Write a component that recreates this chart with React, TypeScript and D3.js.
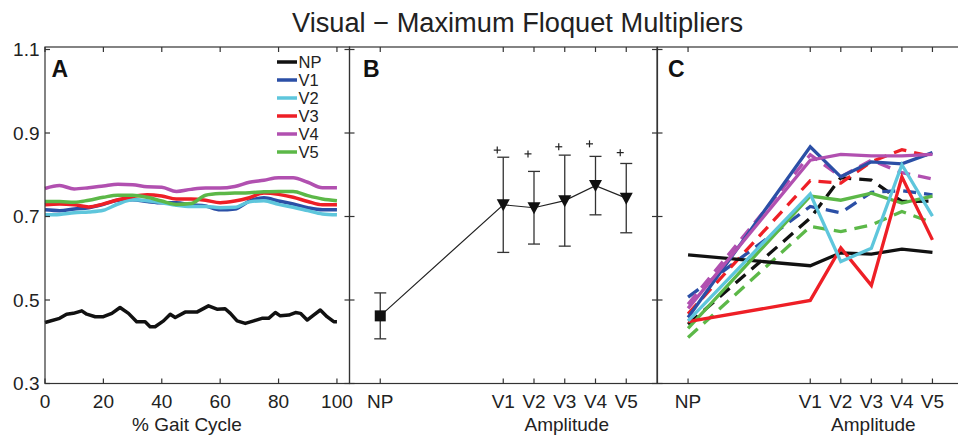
import React from 'react';
import * as d3 from 'd3';

// ---------- Panel A data ----------
const npCycleX = [0, 5, 7.4, 9.7, 12.6, 14.3, 17.2, 20, 22.9, 25.7, 28.6, 31.4, 34.3, 36, 37.7, 40.6, 42.9, 44.6, 48, 52, 56, 58.9, 61.7, 63.5, 65.8, 68.6, 71.5, 74.3, 76.6, 78.9, 80.6, 83.5, 85.8, 87.5, 89.8, 92, 94.3, 96.6, 98.9, 100];
const npCycle = [0.446, 0.456, 0.466, 0.468, 0.474, 0.466, 0.46, 0.46, 0.468, 0.482, 0.468, 0.448, 0.448, 0.436, 0.436, 0.45, 0.466, 0.458, 0.471, 0.471, 0.486, 0.478, 0.479, 0.468, 0.45, 0.444, 0.45, 0.456, 0.456, 0.47, 0.462, 0.464, 0.47, 0.468, 0.452, 0.464, 0.476, 0.46, 0.448, 0.448];

const gaitGrid = [0, 5, 10, 15, 20, 25, 30, 35, 40, 45, 50, 55, 60, 65, 70, 75, 80, 85, 90, 95, 100];
const v1Cycle = [0.716, 0.714, 0.718, 0.721, 0.729, 0.739, 0.740, 0.736, 0.733, 0.733, 0.728, 0.725, 0.716, 0.718, 0.737, 0.745, 0.737, 0.730, 0.721, 0.716, 0.716];
const v2Cycle = [0.704, 0.705, 0.709, 0.711, 0.715, 0.730, 0.740, 0.738, 0.733, 0.727, 0.724, 0.724, 0.721, 0.722, 0.735, 0.738, 0.729, 0.722, 0.714, 0.706, 0.704];
const v3Cycle = [0.728, 0.730, 0.728, 0.723, 0.730, 0.740, 0.748, 0.752, 0.749, 0.742, 0.742, 0.739, 0.733, 0.737, 0.745, 0.756, 0.753, 0.746, 0.736, 0.728, 0.728];
const v4Cycle = [0.767, 0.774, 0.766, 0.769, 0.773, 0.777, 0.776, 0.771, 0.770, 0.760, 0.765, 0.768, 0.768, 0.772, 0.782, 0.787, 0.793, 0.793, 0.782, 0.769, 0.769];
const v5Cycle = [0.736, 0.736, 0.734, 0.739, 0.746, 0.751, 0.751, 0.746, 0.737, 0.729, 0.731, 0.751, 0.755, 0.756, 0.757, 0.759, 0.760, 0.760, 0.750, 0.742, 0.738];

const legendLabels = ['NP', 'V1', 'V2', 'V3', 'V4', 'V5'];
const seriesColors = ['#111111', '#2b4fa6', '#5ec6dc', '#ee1f26', '#b150b0', '#5cb848'];

// ---------- Panel B data ----------
const categories = ['NP', 'V1', 'V2', 'V3', 'V4', 'V5'];
const categoryPos = [0, 4, 5, 6, 7, 8];
const meanFM = [0.462, 0.728, 0.721, 0.738, 0.774, 0.744];
const sdFM = [0.055, 0.114, 0.087, 0.109, 0.070, 0.083];
const sigMarks = [null, 0.859, 0.850, 0.867, 0.874, 0.853];

// ---------- Panel C data (individual subjects) ----------
const subjSolidBlack = [0.608, 0.582, 0.613, 0.610, 0.622, 0.614];
const subjSolidBlue = [0.458, 0.867, 0.795, 0.831, 0.826, 0.853];
const subjSolidCyan = [0.450, 0.754, 0.592, 0.624, 0.824, 0.701];
const subjSolidRed = [0.448, 0.499, 0.625, 0.535, 0.795, 0.644];
const subjSolidMagenta = [0.480, 0.835, 0.849, 0.845, 0.845, 0.849];
const subjSolidGreen = [0.432, 0.749, 0.739, 0.756, 0.732, 0.749];
const subjDashBlack = [0.442, 0.696, 0.793, 0.787, 0.736, 0.737];
const subjDashBlue = [0.507, 0.724, 0.709, 0.758, 0.762, 0.752];
const subjDashRed = [0.467, 0.786, 0.780, 0.831, 0.860, 0.843];
const subjDashMagenta = [0.490, 0.848, 0.795, 0.835, 0.805, 0.790];
const subjDashGreen = [0.410, 0.676, 0.664, 0.680, 0.712, 0.685];

const title = 'Visual \u2212 Maximum Floquet Multipliers';
const yTicks = [0.3, 0.5, 0.7, 0.9, 1.1];
const yTickLabels = ['0.3', '0.5', '0.7', '0.9', '1.1'];
const gaitTicks = [0, 20, 40, 60, 80, 100];

const FONT = '"Liberation Sans", Arial, Helvetica, sans-serif';

export default function App() {
  const W = 958, H = 441;
  const top = 47, bottom = 383.5;
  const y = d3.scaleLinear().domain([0.3, 1.106]).range([bottom, top]);
  const xA = d3.scaleLinear().domain([0, 104.3]).range([45, 349.5]);
  const xB = d3.scaleLinear().domain([-1, 9]).range([349.5, 657]);
  const xC = d3.scaleLinear().domain([-1, 9]).range([657.5, 963]);
  const tick = 5;
  const axisColor = '#333';

  const lineA = (xs: number[], ys: number[]) =>
    d3.line<number>().x((_, i) => xA(xs[i])).y((v) => y(v)).curve(d3.curveMonotoneX)(ys) || '';
  const lineA2 = (xs: number[], ys: number[]) =>
    d3.line<number>().x((_, i) => xA(xs[i])).y((v) => y(v))(ys) || '';
  const lineCat = (sx: d3.ScaleLinear<number, number>, ys: number[]) =>
    d3.line<number>().x((_, i) => sx(categoryPos[i])).y((v) => y(v))(ys) || '';

  const colorA = [npCycle, v1Cycle, v2Cycle, v3Cycle, v4Cycle, v5Cycle];

  const frame = (x0: number, x1: number, xt: number[], key: string) => (
    <g key={key} stroke={axisColor} strokeWidth={1.2} fill="none">
      <rect x={x0} y={top} width={x1 - x0} height={bottom - top} />
      {xt.map((t, i) => (
        <g key={i}>
          <line x1={t} x2={t} y1={bottom} y2={bottom - tick} />
          <line x1={t} x2={t} y1={top} y2={top + tick} />
        </g>
      ))}
      {yTicks.map((t, i) => (
        <g key={'y' + i}>
          <line x1={x0} x2={x0 + tick} y1={y(t)} y2={y(t)} />
          <line x1={x1} x2={x1 - tick} y1={y(t)} y2={y(t)} />
        </g>
      ))}
    </g>
  );

  const cSolid: [number[], string][] = [
    [subjSolidBlack, seriesColors[0]],
    [subjSolidBlue, seriesColors[1]],
    [subjSolidMagenta, seriesColors[4]],
    [subjSolidGreen, seriesColors[5]],
    [subjSolidRed, seriesColors[3]],
    [subjSolidCyan, seriesColors[2]],
  ];
  const cDash: [number[], string][] = [
    [subjDashBlack, seriesColors[0]],
    [subjDashBlue, seriesColors[1]],
    [subjDashRed, seriesColors[3]],
    [subjDashMagenta, seriesColors[4]],
    [subjDashGreen, seriesColors[5]],
  ];

  const tri = 'M-6.5,-5.5L6.5,-5.5L0,6.5Z';

  return (
    <svg width={W} height={H} style={{ position: 'absolute', left: 0, top: 0, background: '#fff' }} fontFamily={FONT}>
      <rect x={0} y={0} width={W} height={H} fill="#fff" />
      <text x={292} y={32} fontSize={27} fill="#222" textLength={451} lengthAdjust="spacingAndGlyphs">{title}</text>

      {/* Panel A */}
      <g>
        {colorA.map((s, i) => (
          <path key={i} d={i === 0 ? lineA2(npCycleX, s) : lineA(gaitGrid, s)} fill="none" stroke={seriesColors[i]} strokeWidth={3.5} strokeLinejoin="round" />
        ))}
        {frame(45, 349.5, gaitTicks.map((t) => xA(t)), 'fa')}
        {yTicks.map((t, i) => (
          <text key={i} x={39.5} y={y(t) + 6.5} fontSize={19} textAnchor="end" fill="#222">{yTickLabels[i]}</text>
        ))}
        {gaitTicks.map((t, i) => (
          <text key={i} x={xA(t)} y={408} fontSize={19} textAnchor="middle" fill="#222">{t}</text>
        ))}
        <text x={187} y={431} fontSize={19} textAnchor="middle" fill="#222">% Gait Cycle</text>
        <text x={51.5} y={76.5} fontSize={23} fontWeight="bold" fill="#111">A</text>
        {legendLabels.map((l, i) => (
          <g key={i}>
            <line x1={277} x2={297} y1={62 + i * 18} y2={62 + i * 18} stroke={seriesColors[i]} strokeWidth={3.5} />
            <text x={298.5} y={62 + i * 18 + 6} fontSize={16.5} fill="#222">{l}</text>
          </g>
        ))}
      </g>

      {/* Panel B */}
      <g>
        {frame(349.5, 657, categoryPos.map((c) => xB(c)), 'fb')}
        <path d={lineCat(xB, meanFM)} fill="none" stroke="#222" strokeWidth={1.2} />
        {meanFM.map((m, i) => {
          const cx = xB(categoryPos[i]);
          const y1 = y(m + sdFM[i]);
          const y2 = y(m - sdFM[i]);
          return (
            <g key={i} stroke="#333" strokeWidth={1.3}>
              <line x1={cx} x2={cx} y1={y1} y2={y2} />
              <line x1={cx - 6} x2={cx + 6} y1={y1} y2={y1} />
              <line x1={cx - 6} x2={cx + 6} y1={y2} y2={y2} />
            </g>
          );
        })}
        {meanFM.map((m, i) => {
          const cx = xB(categoryPos[i]);
          return i === 0 ? (
            <rect key={i} x={cx - 5.5} y={y(m) - 5.5} width={11} height={11} fill="#111" />
          ) : (
            <path key={i} d={tri} transform={`translate(${cx},${y(m)})`} fill="#111" />
          );
        })}
        {sigMarks.map((s, i) =>
          s === null ? null : (
            <g key={i} stroke="#222" strokeWidth={1.2} transform={`translate(${xB(categoryPos[i]) - 6},${y(s)})`}>
              <line x1={-3.5} x2={3.5} y1={0} y2={0} />
              <line x1={0} x2={0} y1={-3.5} y2={3.5} />
            </g>
          )
        )}
        {categories.map((c, i) => (
          <text key={i} x={xB(categoryPos[i])} y={408} fontSize={19} textAnchor="middle" fill="#222">{c}</text>
        ))}
        <text x={xB(6) + 2} y={431} fontSize={19} textAnchor="middle" fill="#222">Amplitude</text>
        <text x={363} y={76.5} fontSize={23} fontWeight="bold" fill="#111">B</text>
      </g>

      {/* Panel C */}
      <g>
        {cDash.map(([s, c], i) => (
          <path key={'d' + i} d={lineCat(xC, s)} fill="none" stroke={c} strokeWidth={3.3} strokeDasharray="13,8" />
        ))}
        {cSolid.map(([s, c], i) => (
          <path key={'s' + i} d={lineCat(xC, s)} fill="none" stroke={c} strokeWidth={3.3} strokeLinejoin="miter" />
        ))}
        {frame(657.5, 963, categoryPos.map((c) => xC(c)), 'fc')}
        {categories.map((c, i) => (
          <text key={i} x={xC(categoryPos[i])} y={408} fontSize={19} textAnchor="middle" fill="#222">{c}</text>
        ))}
        <text x={xC(6) + 2} y={431} fontSize={19} textAnchor="middle" fill="#222">Amplitude</text>
        <text x={668} y={76.5} fontSize={23} fontWeight="bold" fill="#111">C</text>
      </g>
    </svg>
  );
}
